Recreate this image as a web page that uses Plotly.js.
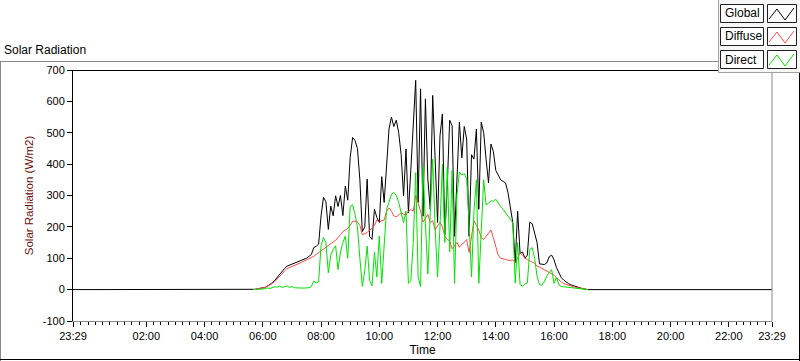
<!DOCTYPE html>
<html><head><meta charset="utf-8">
<script src="https://cdn.plot.ly/plotly-3.0.1.min.js"></script>
<style>html,body{margin:0;padding:0;background:#fff}#chart{width:800px;height:361px}</style>
</head><body><div id="chart"></div>
<script>
// ---- data ----
const seriesNames = ["Global", "Diffuse", "Direct"];
const seriesColors = ["#000000", "#ff4a4a", "#00e400"];
const dataStartHour = 5 + 40 / 60;   // 05:40
const stepMinutes = 5;
const dayStartHour = -31 / 60;        // 23:29 previous day
const dayEndHour = 23 + 29 / 60;      // 23:29

const globalValues = [
  0, 1, 3, 4,
  5, 7, 12, 17, 22, 30, 40, 50, 60, 68, 75, 78,
  80, 84, 86, 89, 93, 97, 100, 106, 112, 134, 138, 145,
  235, 294, 280, 192, 266, 235, 299, 265, 300, 236, 330, 285,
  420, 485, 475, 450, 350, 185, 200, 352, 170, 160, 256, 230,
  214, 360, 278, 394, 512, 550, 520, 540, 500, 430, 299, 448,
  245, 384, 530, 667, 278, 640, 234, 608, 352, 256, 619, 400,
  214, 490, 560, 176, 330, 540, 522, 170, 384, 534, 420, 520,
  480, 170, 430, 416, 512, 256, 534, 500, 416, 340, 464, 440,
  380, 362, 350, 345, 340, 310, 256, 214, 85, 250, 115, 120,
  100, 110, 215, 210, 180, 150, 82, 80, 80, 85, 105, 110,
  95, 70, 54, 38, 30, 23, 19, 15, 12, 10, 7, 5,
  3, 1, 0
];
const diffuseValues = [
  0, 1, 3, 4,
  5, 7, 11, 15, 20, 26, 35, 44, 52, 60, 67, 70,
  73, 77, 80, 83, 87, 91, 95, 98, 101, 106, 112, 118,
  124, 130, 137, 142, 147, 152, 157, 168, 175, 185, 190, 195,
  205, 218, 218, 215, 205, 175, 178, 182, 190, 195, 205, 222,
  215, 220, 222, 250, 260, 250, 235, 232, 238, 245, 240, 238,
  250, 255, 250, 300, 275, 250, 215, 230, 240, 213, 220, 190,
  205, 215, 200, 170, 160, 155, 130, 140, 150, 135, 145, 150,
  160, 118, 170, 220, 205, 190, 165, 160, 170, 182, 190, 165,
  140, 110, 100, 97, 96, 94, 92, 95, 85, 100, 117, 110,
  100, 96, 93, 88, 84, 75, 72, 68, 63, 58, 55, 50,
  46, 38, 30, 24, 19, 16, 13, 11, 9, 7, 5, 4,
  2, 1, 0
];
const directValues = [
  0, 0, 0, 1,
  2, 3, 5, 4, 7, 9, 8, 11, 7, 10, 12, 7,
  10, 6, 5, 6, 5, 5, 6, 6, 10, 27, 22, 25,
  140, 166, 150, 54, 110, 128, 140, 64, 120, 150, 170, 100,
  265, 270, 240, 200, 100, 10, 60, 139, 30, 12, 120, 40,
  171, 20, 140, 256, 278, 304, 310, 300, 278, 240, 213, 250,
  20, 30, 150, 373, 40, 10, 394, 210, 50, 245, 416, 200,
  40, 200, 400, 150, 390, 120, 380, 20, 300, 375, 365, 370,
  352, 213, 40, 250, 350, 20, 171, 350, 270, 275, 283, 282,
  288, 275, 265, 256, 245, 235, 224, 213, 21, 150, 16, 11,
  18, 21, 128, 134, 100, 43, 16, 14, 25, 43, 54, 64,
  20, 40, 15, 10, 9, 8, 7, 6, 5, 4, 3, 2,
  1, 0, 0
];

const tickHours = [dayStartHour, 2, 4, 6, 8, 10, 12, 14, 16, 18, 20, 22, dayEndHour];
const tickLabels = ["23:29", "02:00", "04:00", "06:00", "08:00", "10:00", "12:00",
                    "14:00", "16:00", "18:00", "20:00", "22:00", "23:29"];
const yTickValues = [-100, 0, 100, 200, 300, 400, 500, 600, 700];
const yTickLabels = ["-100", "0", "100", "200", "300", "400", "500", "600", "700"];

// ---- build ----
const times = globalValues.map((_, i) => dataStartHour + i * stepMinutes / 60);
const FONT = "Liberation Sans, Arial, sans-serif";

const traces = [
  { x: [dayStartHour].concat(times, [dayEndHour]), y: [0].concat(globalValues, [0]),
    name: seriesNames[0], mode: "lines", line: { color: seriesColors[0], width: 1 } },
  { x: times, y: diffuseValues, name: seriesNames[1], mode: "lines",
    line: { color: seriesColors[1], width: 1 } },
  { x: times, y: directValues, name: seriesNames[2], mode: "lines",
    line: { color: seriesColors[2], width: 1 } }
];

// pixel -> paper helpers (plot area 73..772 x 70..321)
const L = 73, R = 772, T = 70, B = 321;
const px = v => (v - L) / (R - L);
const py = v => (B - v) / (B - T);
function line(x0, y0, x1, y1, color) {
  return { type: "line", xref: "paper", yref: "paper", x0: px(x0), y0: py(y0), x1: px(x1), y1: py(y1),
           line: { color: color, width: 1 } };
}
function rect(x0, y0, x1, y1, fill, color) {
  return { type: "rect", xref: "paper", yref: "paper", x0: px(x0), y0: py(y0), x1: px(x1), y1: py(y1),
           fillcolor: fill, line: { color: color, width: 1 }, layer: "above" };
}
const shapes = [
  line(0, 61.5, 718, 61.5, "#8a8a8a"),
  line(0.5, 61.5, 0.5, 361, "#8a8a8a"),
  line(0, 359.5, 800, 359.5, "#000"),
  line(799.5, 72, 799.5, 361, "#000"),
  line(L, 70.5, R, 70.5, "#000"),
  line(R, 70.5, R, 321, "#8a8a8a"),
  rect(718.5, -1, 801, 72.5, "#f7f7f7", "#a0a0a0")
];
const annotations = [];
const rowTops = [4, 27, 50];
seriesNames.forEach((nm, i) => {
  const t = rowTops[i];
  shapes.push(rect(720.5, t + 0.5, 763.5, t + 18.5, "#ffffff", "#202020"));
  shapes.push(rect(767.5, t + 0.5, 796.5, t + 18.5, "#ffffff", "#202020"));
  shapes.push({ type: "path", xref: "paper", yref: "paper", layer: "above",
    path: "M" + px(769) + "," + py(t + 15) + " L" + px(777) + "," + py(t + 5) +
          " L" + px(785) + "," + py(t + 16) + " L" + px(794) + "," + py(t + 4),
    line: { color: seriesColors[i], width: 1 } });
  annotations.push({ xref: "paper", yref: "paper", x: px(723), y: py(t + 9.5), xanchor: "left",
    yanchor: "middle", showarrow: false, text: nm, font: { family: FONT, size: 12, color: "#000" } });
});

const layout = {
  width: 800, height: 361,
  margin: { l: L, r: 800 - R, t: T, b: 361 - B },
  paper_bgcolor: "#ffffff", plot_bgcolor: "#ffffff",
  showlegend: false, hovermode: false,
  font: { family: FONT, size: 11, color: "#000" },
  title: { text: "Solar Radiation", xref: "container", yref: "container", x: 4 / 800, xanchor: "left",
           y: 1 - 50 / 361, yanchor: "middle", font: { family: FONT, size: 12, color: "#000" } },
  xaxis: {
    range: [dayStartHour, dayEndHour], tickmode: "array", tickvals: tickHours, ticktext: tickLabels,
    ticks: "outside", ticklen: 5, tickcolor: "#000", showgrid: false, zeroline: false,
    showline: true, linecolor: "#8a8a8a", linewidth: 1,
    tickfont: { family: FONT, size: 11, color: "#000" },
    minor: { tickmode: "linear", tick0: 0, dtick: 0.25, ticks: "outside", ticklen: 3, tickcolor: "#000", showgrid: false },
    title: { text: "Time", standoff: 4, font: { family: FONT, size: 12, color: "#000" } }
  },
  yaxis: {
    range: [-100, 700], tickmode: "array", tickvals: yTickValues, ticktext: yTickLabels,
    ticks: "outside", ticklen: 5, tickcolor: "#000", showgrid: false, zeroline: false,
    showline: true, linecolor: "#000", linewidth: 1,
    tickfont: { family: FONT, size: 11, color: "#000" },
    title: { text: "Solar Radiation (W/m2)", standoff: 6, font: { family: FONT, size: 11.5, color: "#6e1010" } }
  },
  shapes: shapes, annotations: annotations
};

Plotly.newPlot("chart", traces, layout, { staticPlot: true, displayModeBar: false });
</script>
</body></html>
